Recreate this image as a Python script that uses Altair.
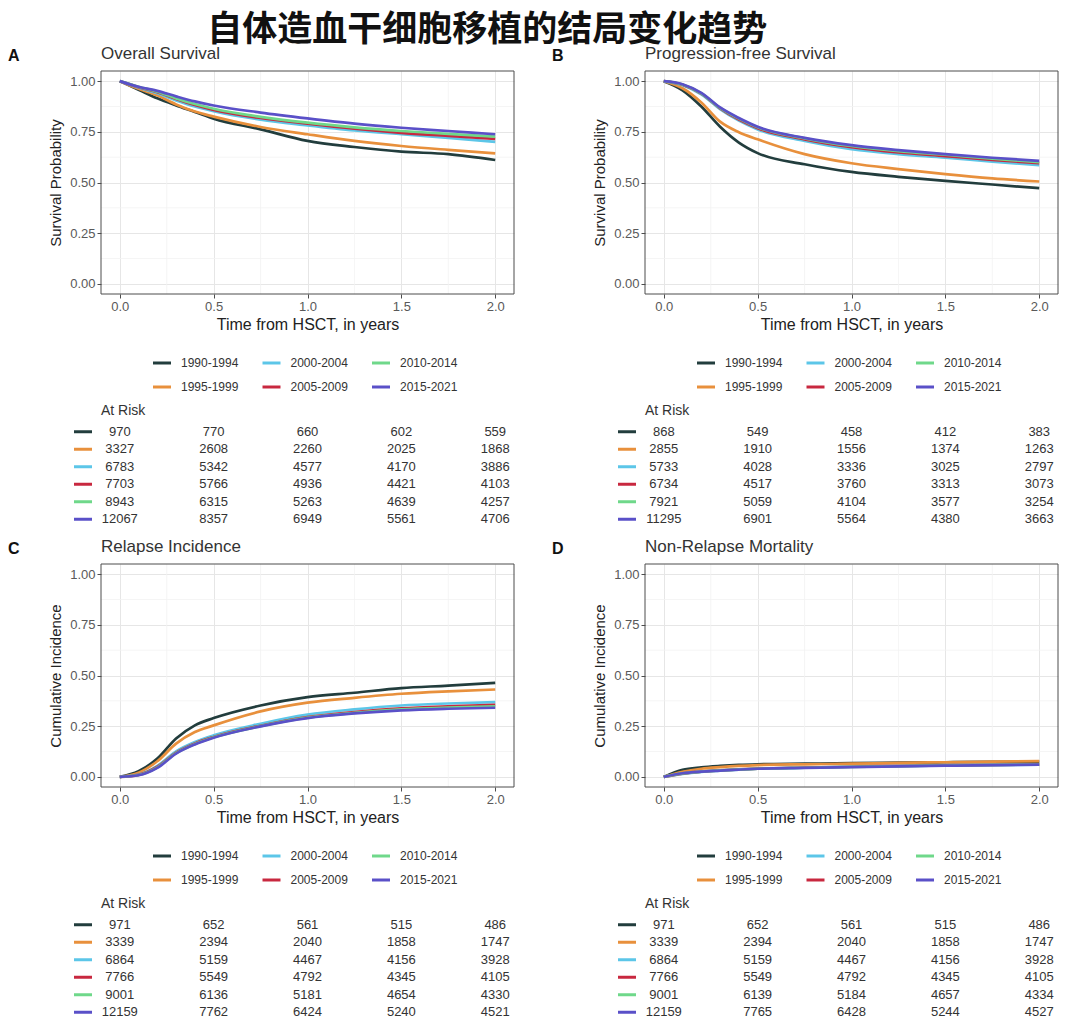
import altair as alt
import pandas as pd

series = ["1990-1994", "1995-1999", "2000-2004", "2005-2009", "2010-2014", "2015-2021"]
colors = ["#223d3d", "#e8903c", "#5cc6e8", "#c8283f", "#6fd88a", "#5a50c8"]
times = [0, 0.1, 0.2, 0.3, 0.4, 0.5, 0.75, 1.0, 1.25, 1.5, 1.75, 2.0]
risk_times = [0, 0.5, 1.0, 1.5, 2.0]

# Overall survival
os_1990 = [1.0, 0.958, 0.915, 0.88, 0.848, 0.815, 0.762, 0.705, 0.675, 0.652, 0.640, 0.611]
os_1995 = [1.0, 0.962, 0.93, 0.885, 0.85, 0.825, 0.774, 0.738, 0.705, 0.68, 0.661, 0.644]
os_2000 = [1.0, 0.968, 0.94, 0.905, 0.875, 0.852, 0.81, 0.782, 0.757, 0.738, 0.72, 0.70]
os_2005 = [1.0, 0.97, 0.945, 0.912, 0.882, 0.858, 0.818, 0.79, 0.765, 0.745, 0.73, 0.715]
os_2010 = [1.0, 0.972, 0.948, 0.915, 0.887, 0.864, 0.824, 0.795, 0.772, 0.754, 0.74, 0.726]
os_2015 = [1.0, 0.972, 0.952, 0.925, 0.9, 0.88, 0.845, 0.816, 0.79, 0.77, 0.754, 0.738]

# Progression-free survival
pfs_1990 = [1.0, 0.955, 0.875, 0.775, 0.697, 0.645, 0.59, 0.552, 0.528, 0.508, 0.49, 0.472]
pfs_1995 = [1.0, 0.965, 0.895, 0.80, 0.748, 0.713, 0.64, 0.595, 0.566, 0.541, 0.52, 0.505]
pfs_2000 = [1.0, 0.98, 0.935, 0.862, 0.805, 0.762, 0.705, 0.664, 0.64, 0.623, 0.603, 0.585]
pfs_2005 = [1.0, 0.982, 0.938, 0.866, 0.81, 0.768, 0.713, 0.674, 0.648, 0.63, 0.612, 0.595]
pfs_2010 = [1.0, 0.983, 0.94, 0.868, 0.815, 0.772, 0.718, 0.68, 0.655, 0.637, 0.618, 0.60]
pfs_2015 = [1.0, 0.985, 0.942, 0.87, 0.818, 0.775, 0.72, 0.684, 0.66, 0.64, 0.622, 0.607]

# Relapse incidence
ri_1990 = [0, 0.028, 0.09, 0.189, 0.254, 0.29, 0.352, 0.393, 0.415, 0.438, 0.45, 0.464]
ri_1995 = [0, 0.02, 0.077, 0.164, 0.221, 0.254, 0.323, 0.366, 0.39, 0.41, 0.422, 0.431]
ri_2000 = [0, 0.011, 0.054, 0.126, 0.172, 0.205, 0.262, 0.307, 0.333, 0.352, 0.362, 0.369]
ri_2005 = [0, 0.01, 0.05, 0.12, 0.165, 0.197, 0.252, 0.295, 0.32, 0.338, 0.348, 0.355]
ri_2010 = [0, 0.009, 0.047, 0.117, 0.162, 0.195, 0.25, 0.292, 0.316, 0.333, 0.342, 0.348]
ri_2015 = [0, 0.008, 0.044, 0.115, 0.16, 0.193, 0.249, 0.29, 0.313, 0.328, 0.336, 0.341]

# Non-relapse mortality
nrm_1990 = [0, 0.035, 0.047, 0.054, 0.059, 0.062, 0.065, 0.068, 0.07, 0.072, 0.074, 0.075]
nrm_1995 = [0, 0.025, 0.04, 0.048, 0.054, 0.058, 0.062, 0.065, 0.069, 0.072, 0.075, 0.078]
nrm_2000 = [0, 0.015, 0.025, 0.031, 0.036, 0.04, 0.045, 0.05, 0.053, 0.056, 0.058, 0.06]
nrm_2005 = [0, 0.016, 0.026, 0.032, 0.037, 0.041, 0.046, 0.05, 0.054, 0.057, 0.059, 0.062]
nrm_2010 = [0, 0.017, 0.026, 0.032, 0.037, 0.04, 0.045, 0.049, 0.053, 0.056, 0.059, 0.061]
nrm_2015 = [0, 0.018, 0.026, 0.031, 0.036, 0.04, 0.044, 0.048, 0.052, 0.055, 0.058, 0.06]

# At-risk tables
risk_os = [[970, 770, 660, 602, 559], [3327, 2608, 2260, 2025, 1868], [6783, 5342, 4577, 4170, 3886],
           [7703, 5766, 4936, 4421, 4103], [8943, 6315, 5263, 4639, 4257], [12067, 8357, 6949, 5561, 4706]]
risk_pfs = [[868, 549, 458, 412, 383], [2855, 1910, 1556, 1374, 1263], [5733, 4028, 3336, 3025, 2797],
            [6734, 4517, 3760, 3313, 3073], [7921, 5059, 4104, 3577, 3254], [11295, 6901, 5564, 4380, 3663]]
risk_ri = [[971, 652, 561, 515, 486], [3339, 2394, 2040, 1858, 1747], [6864, 5159, 4467, 4156, 3928],
           [7766, 5549, 4792, 4345, 4105], [9001, 6136, 5181, 4654, 4330], [12159, 7762, 6424, 5240, 4521]]
risk_nrm = [[971, 652, 561, 515, 486], [3339, 2394, 2040, 1858, 1747], [6864, 5159, 4467, 4156, 3928],
            [7766, 5549, 4792, 4345, 4105], [9001, 6139, 5184, 4657, 4334], [12159, 7765, 6428, 5244, 4527]]

x_major = [0, 0.5, 1.0, 1.5, 2.0]
x_minor = [0.25, 0.75, 1.25, 1.75]
y_major = [0, 0.25, 0.5, 0.75, 1.0]
y_minor = [0.125, 0.375, 0.625, 0.875]

FONT = "Liberation Sans"
W, H = 413, 223
xs = alt.Scale(domain=[-0.1, 2.1], nice=False, zero=False)
ys = alt.Scale(domain=[-0.05, 1.05], nice=False, zero=False)
cscale = alt.Scale(domain=series, range=colors)
x_axis = alt.Axis(values=x_major, format=".1f", title="Time from HSCT, in years")


def y_axis(t):
    return alt.Axis(values=y_major, format=".2f", title=t)


def plot_panel(letter, title, ytitle, curves):
    rows = []
    for s, vals in zip(series, curves):
        for t, v in zip(times, vals):
            rows.append({"t": t, "v": v, "s": s})
    df = pd.DataFrame(rows)
    one = pd.DataFrame({"a": [0]})
    gx = alt.Chart(pd.DataFrame({"t": x_minor})).mark_rule(color="#f3f3f3", strokeWidth=0.8).encode(
        x=alt.X("t:Q", scale=xs, axis=x_axis))
    gy = alt.Chart(pd.DataFrame({"v": y_minor})).mark_rule(color="#f3f3f3", strokeWidth=0.8).encode(
        y=alt.Y("v:Q", scale=ys, axis=y_axis(ytitle)))
    lines = alt.Chart(df).mark_line(strokeWidth=2.7, interpolate="monotone").encode(
        x=alt.X("t:Q", scale=xs, axis=x_axis),
        y=alt.Y("v:Q", scale=ys, axis=y_axis(ytitle)),
        color=alt.Color("s:N", scale=cscale, legend=None),
    )
    frame = alt.Chart(one).mark_rect(fillOpacity=0, stroke="#4d4d4d", strokeWidth=1).encode(
        x=alt.value(0), x2=alt.value(W), y=alt.value(0), y2=alt.value(H))
    lab = alt.Chart(pd.DataFrame({"lab": [letter]})).mark_text(
        align="left", baseline="middle", fontSize=16, fontWeight="bold", font=FONT, color="#111"
    ).encode(text="lab:N", x=alt.value(-93), y=alt.value(-15))
    ttl = alt.Chart(pd.DataFrame({"lab": [title]})).mark_text(
        align="left", baseline="middle", fontSize=17, font=FONT, color="#333"
    ).encode(text="lab:N", x=alt.value(0), y=alt.value(-17))
    return alt.layer(gx, gy, lines, frame, lab, ttl).properties(width=W, height=H)


def legend_panel():
    df = pd.DataFrame({"s": series, "col": [i // 2 for i in range(6)], "row": [i % 2 for i in range(6)]})
    base = alt.Chart(df).encode(
        x=alt.X("col:Q", scale=alt.Scale(domain=[0, 2], range=[61, 280]), axis=None),
        y=alt.Y("row:Q", scale=alt.Scale(domain=[0, 1], range=[12, 36]), axis=None),
    )
    glyph = base.mark_point(shape="M-1,0L1,0", size=324, strokeWidth=3, filled=False, opacity=1).encode(
        color=alt.Color("s:N", scale=cscale, legend=None))
    text = base.mark_text(align="left", baseline="middle", dx=19, fontSize=12, font=FONT,
                          color="#333").encode(text="s:N")
    return alt.layer(glyph, text).properties(width=W, height=48)


def table_panel(risk):
    rows = []
    for s, vals in zip(series, risk):
        for t, n in zip(risk_times, vals):
            rows.append({"s": s, "t": t, "n": n})
    df = pd.DataFrame(rows)
    ysc = alt.Scale(domain=series)
    nums = alt.Chart(df).mark_text(fontSize=13, font=FONT, color="#333", baseline="middle").encode(
        x=alt.X("t:Q", scale=xs, axis=None),
        y=alt.Y("s:N", scale=ysc, axis=None),
        text=alt.Text("n:Q", format="d"),
    )
    glyph = alt.Chart(pd.DataFrame({"s": series})).mark_point(
        shape="M-1,0L1,0", size=324, strokeWidth=3, filled=False, opacity=1).encode(
        x=alt.value(-18),
        y=alt.Y("s:N", scale=ysc, axis=None),
        color=alt.Color("s:N", scale=cscale, legend=None),
    )
    return alt.layer(nums, glyph).properties(
        width=W, height=105,
        title=alt.TitleParams("At Risk", anchor="start", frame="group", fontSize=14, fontWeight="normal",
                              font=FONT, color="#333", offset=5))


def quadrant(letter, title, ytitle, curves, risk):
    return alt.vconcat(
        plot_panel(letter, title, ytitle, curves),
        alt.vconcat(legend_panel(), table_panel(risk), spacing=5),
        spacing=19,
    )


qA = quadrant("A", "Overall Survival", "Survival Probability",
              [os_1990, os_1995, os_2000, os_2005, os_2010, os_2015], risk_os)
qB = quadrant("B", "Progression-free Survival", "Survival Probability",
              [pfs_1990, pfs_1995, pfs_2000, pfs_2005, pfs_2010, pfs_2015], risk_pfs)
qC = quadrant("C", "Relapse Incidence", "Cumulative Incidence",
              [ri_1990, ri_1995, ri_2000, ri_2005, ri_2010, ri_2015], risk_ri)
qD = quadrant("D", "Non-Relapse Mortality", "Cumulative Incidence",
              [nrm_1990, nrm_1995, nrm_2000, nrm_2005, nrm_2010, nrm_2015], risk_nrm)

chart = alt.vconcat(
    alt.hconcat(qA, qB, spacing=37),
    alt.hconcat(qC, qD, spacing=37),
    spacing=10,
).properties(
    title=alt.TitleParams("自体造血干细胞移植的结局变化趋势", font="Noto Sans CJK SC", fontSize=35,
                          fontWeight="bold", color="#111", anchor="middle", dx=-46, offset=-3),
    padding={"left": 0, "top": 5, "right": 5, "bottom": 5},
    background="white",
).configure_view(
    stroke="transparent", strokeOpacity=0
).configure_axis(
    domain=False, grid=True, gridColor="#e6e6e6", gridWidth=1,
    tickColor="#4d4d4d", tickSize=4, labelColor="#595959", labelFontSize=13, labelFont=FONT,
    labelPadding=2, titleFont=FONT, titleFontSize=15, titleFontWeight="normal", titleColor="#222",
).configure_axisX(titleFontSize=16, titlePadding=3).configure_axisY(titlePadding=6)

chart.save("out.html", embed_options={"renderer": "svg", "actions": False})
